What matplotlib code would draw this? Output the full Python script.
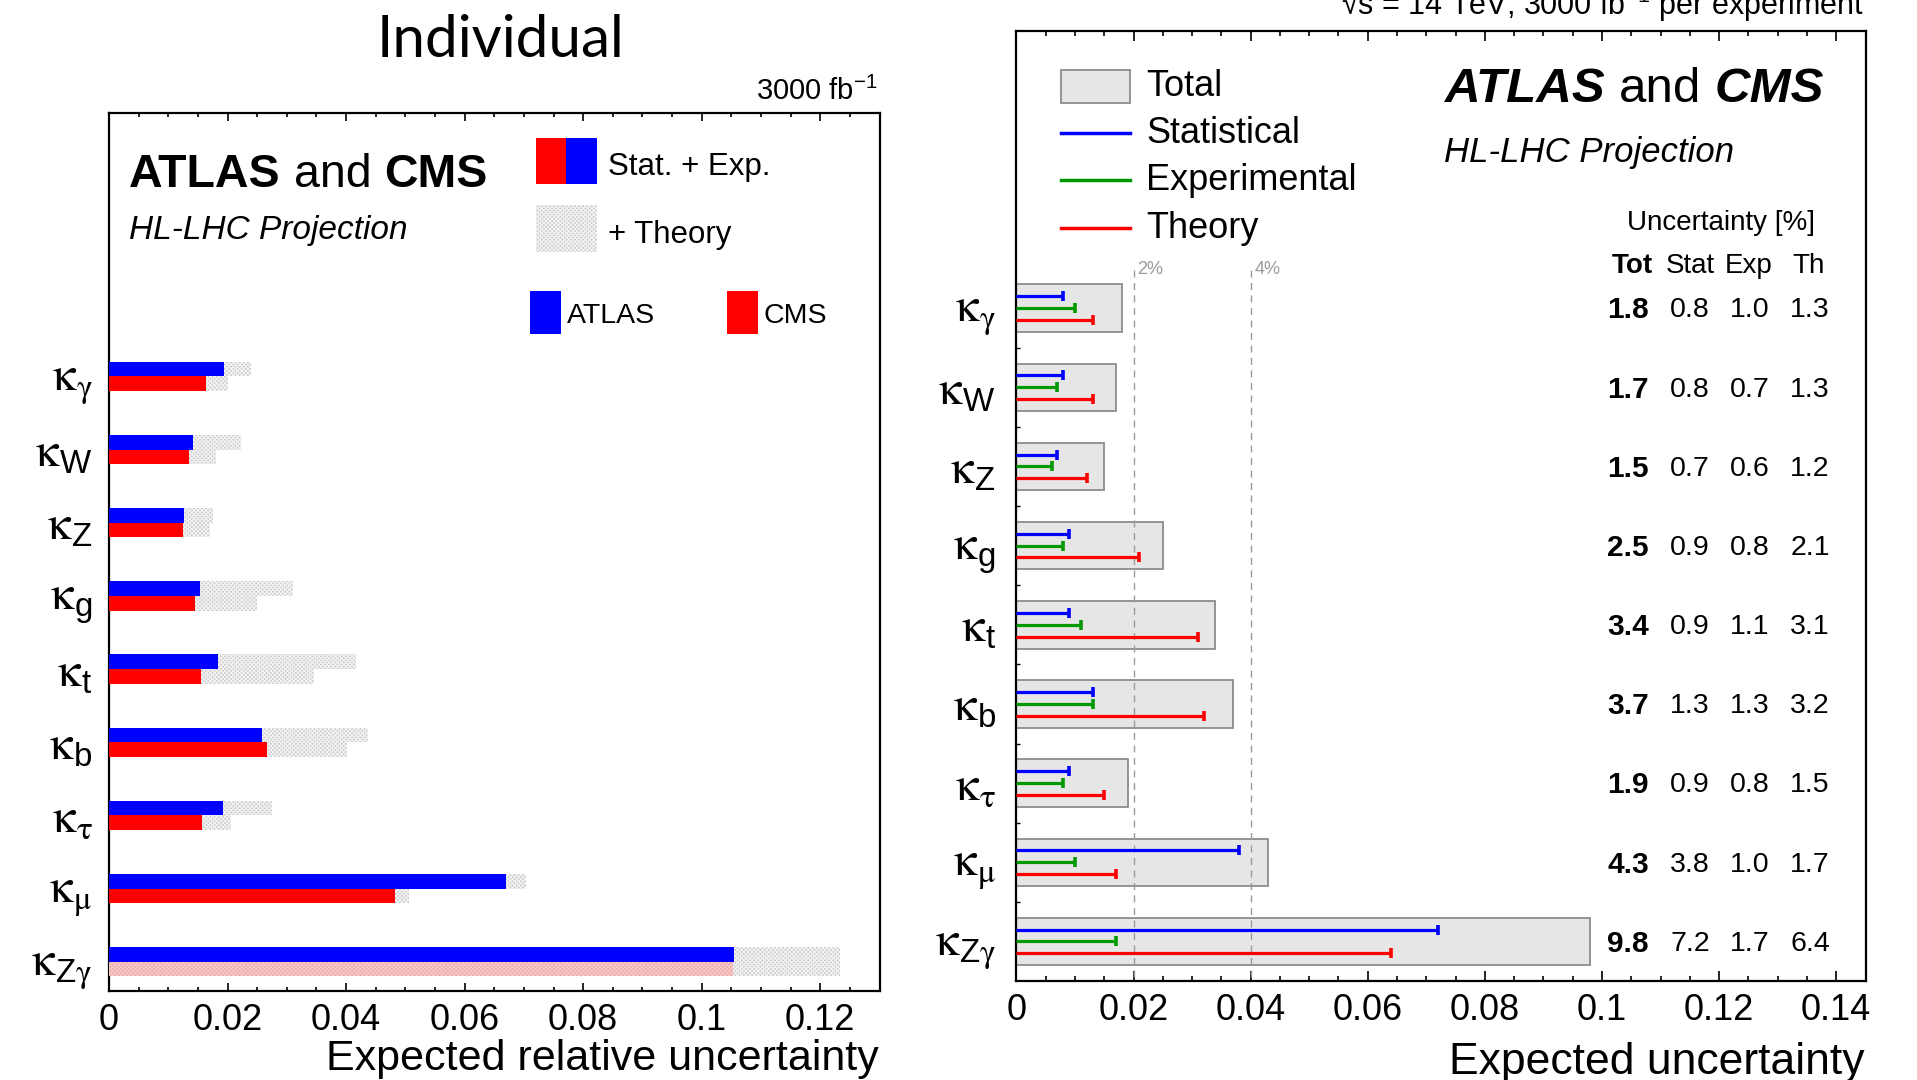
import numpy as np
import matplotlib
matplotlib.use('Agg')
import matplotlib.pyplot as plt
from matplotlib.patches import Rectangle
from matplotlib.lines import Line2D
from matplotlib.ticker import MultipleLocator

# ---------------- data ----------------
kappa_labels = [r'$\mathrm{κ}_{\mathrm{γ}}$', r'$\mathrm{κ}_{\mathsf{W}}$', r'$\mathrm{κ}_{\mathsf{Z}}$',
                r'$\mathrm{κ}_{\mathsf{g}}$', r'$\mathrm{κ}_{\mathsf{t}}$', r'$\mathrm{κ}_{\mathsf{b}}$',
                r'$\mathrm{κ}_{\mathrm{τ}}$', r'$\mathrm{κ}_{\mathrm{μ}}$', r'$\mathrm{κ}_{\mathsf{Z}\mathrm{γ}}$']

# left panel: individual experiments (relative uncertainty)
atlas_stat_exp = [0.0194, 0.0142, 0.0126, 0.0153, 0.0184, 0.0258, 0.0193, 0.0669, 0.1054]
atlas_total    = [0.0239, 0.0223, 0.0176, 0.0311, 0.0416, 0.0437, 0.0275, 0.0704, 0.1233]
cms_stat_exp   = [0.0163, 0.0135, 0.0125, 0.0145, 0.0155, 0.0267, 0.0157, 0.0483, 0.1053]
cms_total      = [0.0201, 0.0180, 0.0171, 0.0250, 0.0346, 0.0402, 0.0205, 0.0507, 0.1233]

# right panel: combined (percent)
tot_pct  = [1.8, 1.7, 1.5, 2.5, 3.4, 3.7, 1.9, 4.3, 9.8]
stat_pct = [0.8, 0.8, 0.7, 0.9, 0.9, 1.3, 0.9, 3.8, 7.2]
exp_pct  = [1.0, 0.7, 0.6, 0.8, 1.1, 1.3, 0.8, 1.0, 1.7]
th_pct   = [1.3, 1.3, 1.2, 2.1, 3.1, 3.2, 1.5, 1.7, 6.4]

left_xticks = [0, 0.02, 0.04, 0.06, 0.08, 0.1, 0.12]
left_xticklabels = ['0', '0.02', '0.04', '0.06', '0.08', '0.1', '0.12']
right_xticks = [0, 0.02, 0.04, 0.06, 0.08, 0.1, 0.12, 0.14]
right_xticklabels = ['0', '0.02', '0.04', '0.06', '0.08', '0.1', '0.12', '0.14']
ref_lines = [0.02, 0.04]
ref_labels = ['2%', '4%']

# ---------------- style ----------------
W, H = 1917, 1080
plt.rcParams['font.family'] = ['Liberation Sans', 'DejaVu Sans']
plt.rcParams['mathtext.fontset'] = 'custom'
plt.rcParams['mathtext.rm'] = 'STIXGeneral'
plt.rcParams['mathtext.it'] = 'Liberation Sans:italic'
plt.rcParams['mathtext.bf'] = 'Liberation Sans:bold'
plt.rcParams['mathtext.sf'] = 'Liberation Sans'
plt.rcParams['hatch.linewidth'] = 0.9

BLUE, RED, GREEN = '#0000ff', '#ff0000', '#009900'
PX = 72.0 / 100.0  # points per pixel at dpi 100

fig = plt.figure(figsize=(W / 100, H / 100), dpi=100)


def fpx(x, y):
    return x / W, 1 - y / H


def ax_rect(l, t, r, b):
    return [l / W, 1 - b / H, (r - l) / W, (b - t) / H]


renderer = fig.canvas.get_renderer()


def runs(x, y, parts, size):
    space = 0.278 * size / PX
    for s, kw in parts:
        t = fig.text(*fpx(x, y), s, ha='left', va='baseline', fontsize=size, **kw)
        bb = t.get_window_extent(renderer)
        x = bb.x1 + space


def frect(x0, y0, x1, y1, **kw):
    fig.patches.append(Rectangle(fpx(x0, y1), (x1 - x0) / W, (y1 - y0) / H,
                                 transform=fig.transFigure, figure=fig, **kw))


n = len(kappa_labels)
ypos = np.arange(n)
KSIZE = 34

# ================= LEFT PANEL =================
axL = fig.add_axes(ax_rect(109, 113, 879.5, 991))
h = 0.2
axL.barh(ypos - h / 2, atlas_stat_exp, height=h, color=BLUE, lw=0, zorder=3)
axL.barh(ypos - h / 2, np.subtract(atlas_total, atlas_stat_exp), left=atlas_stat_exp, height=h,
         facecolor='#c8c8c8', edgecolor='#f2f2f2', hatch='xxxxxxxx', lw=0, zorder=2)
cms_colors = [RED] * (n - 1) + ['#efa3a3']
cb = axL.barh(ypos + h / 2, cms_stat_exp, height=h, color=cms_colors, lw=0, zorder=3)
cb[-1].set_hatch('xxxxxxxx')
cb[-1].set_edgecolor('#f6c8c8')
axL.barh(ypos + h / 2, np.subtract(cms_total, cms_stat_exp), left=cms_stat_exp, height=h,
         facecolor='#c8c8c8', edgecolor='#f2f2f2', hatch='xxxxxxxx', lw=0, zorder=2)

axL.set_xlim(0, 0.13)
axL.set_ylim(n - 0.6, -3.6)
axL.set_xticks(left_xticks)
axL.set_xticklabels(left_xticklabels)
axL.xaxis.set_minor_locator(MultipleLocator(0.005))
axL.tick_params(axis='x', which='both', direction='in', top=True, labelsize=26, pad=9, width=1.2)
axL.tick_params(axis='x', which='major', length=6)
axL.tick_params(axis='x', which='minor', length=3)
axL.set_yticks(ypos)
axL.set_yticklabels(kappa_labels, fontsize=KSIZE)
axL.tick_params(axis='y', length=0, pad=12)
for s in axL.spines.values():
    s.set_linewidth(1.6)

fig.text(*fpx(500, 57), 'Individual', ha='center', va='baseline', fontsize=42,
         family=['Lato', 'DejaVu Sans'])
fig.text(*fpx(878, 100), r'3000 fb$^{\mathsf{-1}}$', ha='right', va='baseline', fontsize=21)
fig.text(*fpx(879, 1070), 'Expected relative uncertainty', ha='right', va='baseline', fontsize=31)

runs(129, 187, [('ATLAS', dict(weight='bold')), ('and', {}), ('CMS', dict(weight='bold'))], 33.5)
fig.text(*fpx(129, 239), 'HL-LHC Projection', ha='left', va='baseline', fontsize=24, style='italic')

# left legend
frect(536, 138, 566, 184, facecolor=RED, lw=0)
frect(566, 138, 597, 184, facecolor=BLUE, lw=0)
fig.text(*fpx(608, 175), 'Stat. + Exp.', ha='left', va='baseline', fontsize=22.5)
frect(536, 205, 597, 252, facecolor='#c8c8c8', edgecolor='#f2f2f2', hatch='xxxxxxxx', lw=0)
fig.text(*fpx(608, 243), '+ Theory', ha='left', va='baseline', fontsize=22.5)
frect(530, 291, 561, 334, facecolor=BLUE, lw=0)
fig.text(*fpx(567, 323), 'ATLAS', ha='left', va='baseline', fontsize=20.5)
frect(727, 291, 758, 334, facecolor=RED, lw=0)
fig.text(*fpx(763, 323), 'CMS', ha='left', va='baseline', fontsize=20.5)

# ================= RIGHT PANEL =================
axR = fig.add_axes(ax_rect(1016.4, 31, 1865.5, 981))
tot = np.array(tot_pct) / 100
axR.barh(ypos, tot, height=0.6, facecolor='#e6e6e6', edgecolor='#8c8c8c', lw=1.3, zorder=2)
for vals, col, off in [(stat_pct, BLUE, -0.15), (exp_pct, GREEN, 0.0), (th_pct, RED, 0.15)]:
    v = np.array(vals) / 100
    axR.hlines(ypos + off, 0, v, colors=col, lw=2.3, zorder=4)
    axR.plot(v, ypos + off, ls='none', marker='|', ms=7, mew=2.6, color=col, zorder=4)

axR.vlines(ref_lines, -0.48, n - 0.5, colors='#9a9a9a', linestyles=(0, (5, 4)), lw=1.0, zorder=3)
for xv, lab in zip(ref_lines, ref_labels):
    axR.text(xv + 0.0006, -0.43, lab, ha='left', va='baseline', fontsize=13, color='#9a9a9a')

axR.set_xlim(0, 0.145)
axR.set_ylim(n - 0.5, -3.5)
axR.set_xticks(right_xticks)
axR.set_xticklabels(right_xticklabels)
axR.xaxis.set_minor_locator(MultipleLocator(0.005))
axR.tick_params(axis='x', which='both', direction='in', top=True, labelsize=26, pad=9, width=1.2)
axR.tick_params(axis='x', which='major', length=7)
axR.tick_params(axis='x', which='minor', length=3.5)
axR.set_yticks(ypos)
axR.set_yticklabels(kappa_labels, fontsize=KSIZE)
axR.set_yticks(np.arange(0.5, n - 1, 1), minor=True)
axR.tick_params(axis='y', which='major', length=0, pad=15)
axR.tick_params(axis='y', which='minor', direction='in', length=3, width=1.0)
for s in axR.spines.values():
    s.set_linewidth(1.6)

# table
col_x = [0.7203, 0.7933, 0.8640, 0.9346]
yt = axR.get_yaxis_transform()
for i in range(n):
    for j, (vals, bold) in enumerate([(tot_pct, True), (stat_pct, False), (exp_pct, False), (th_pct, False)]):
        axR.text(col_x[j], ypos[i] + 0.03, f'{vals[i]:.1f}', transform=yt, ha='center', va='center',
                 fontsize=21.5 if bold else 20.5, weight='bold' if bold else 'normal')

for j, (lab, bold) in enumerate([('Tot', True), ('Stat', False), ('Exp', False), ('Th', False)]):
    fig.text(*fpx([1632, 1690, 1749, 1809][j], 273), lab, ha='center', va='baseline',
             fontsize=20, weight='bold' if bold else 'normal')
fig.text(*fpx(1721, 230), 'Uncertainty [%]', ha='center', va='baseline', fontsize=20)

runs(1444, 102, [('ATLAS', dict(weight='bold', style='italic')), ('and', {}),
                 ('CMS', dict(weight='bold', style='italic'))], 35.5)
fig.text(*fpx(1444, 162), 'HL-LHC Projection', ha='left', va='baseline', fontsize=25, style='italic')

fig.text(*fpx(1864, 15), r'√s = 14 TeV, 3000 fb$^{\mathsf{-1}}$ per experiment', ha='right', va='baseline',
         fontsize=22)
fig.text(*fpx(1864, 1074), 'Expected uncertainty', ha='right', va='baseline', fontsize=32)

# right legend
frect(1061, 70, 1130, 103, facecolor='#e6e6e6', edgecolor='#8c8c8c', lw=1.3)
fig.text(*fpx(1146, 96), 'Total', ha='left', va='baseline', fontsize=26)
for yy, col, lab, base in [(133, BLUE, 'Statistical', 143), (180, GREEN, 'Experimental', 190),
                           (228, RED, 'Theory', 238)]:
    fig.lines.append(Line2D([1061 / W, 1130 / W], [1 - yy / H, 1 - yy / H], transform=fig.transFigure,
                            color=col, lw=2.5))
    fig.text(*fpx(1146, base), lab, ha='left', va='baseline', fontsize=26)

fig.savefig('out.png', dpi=100)
